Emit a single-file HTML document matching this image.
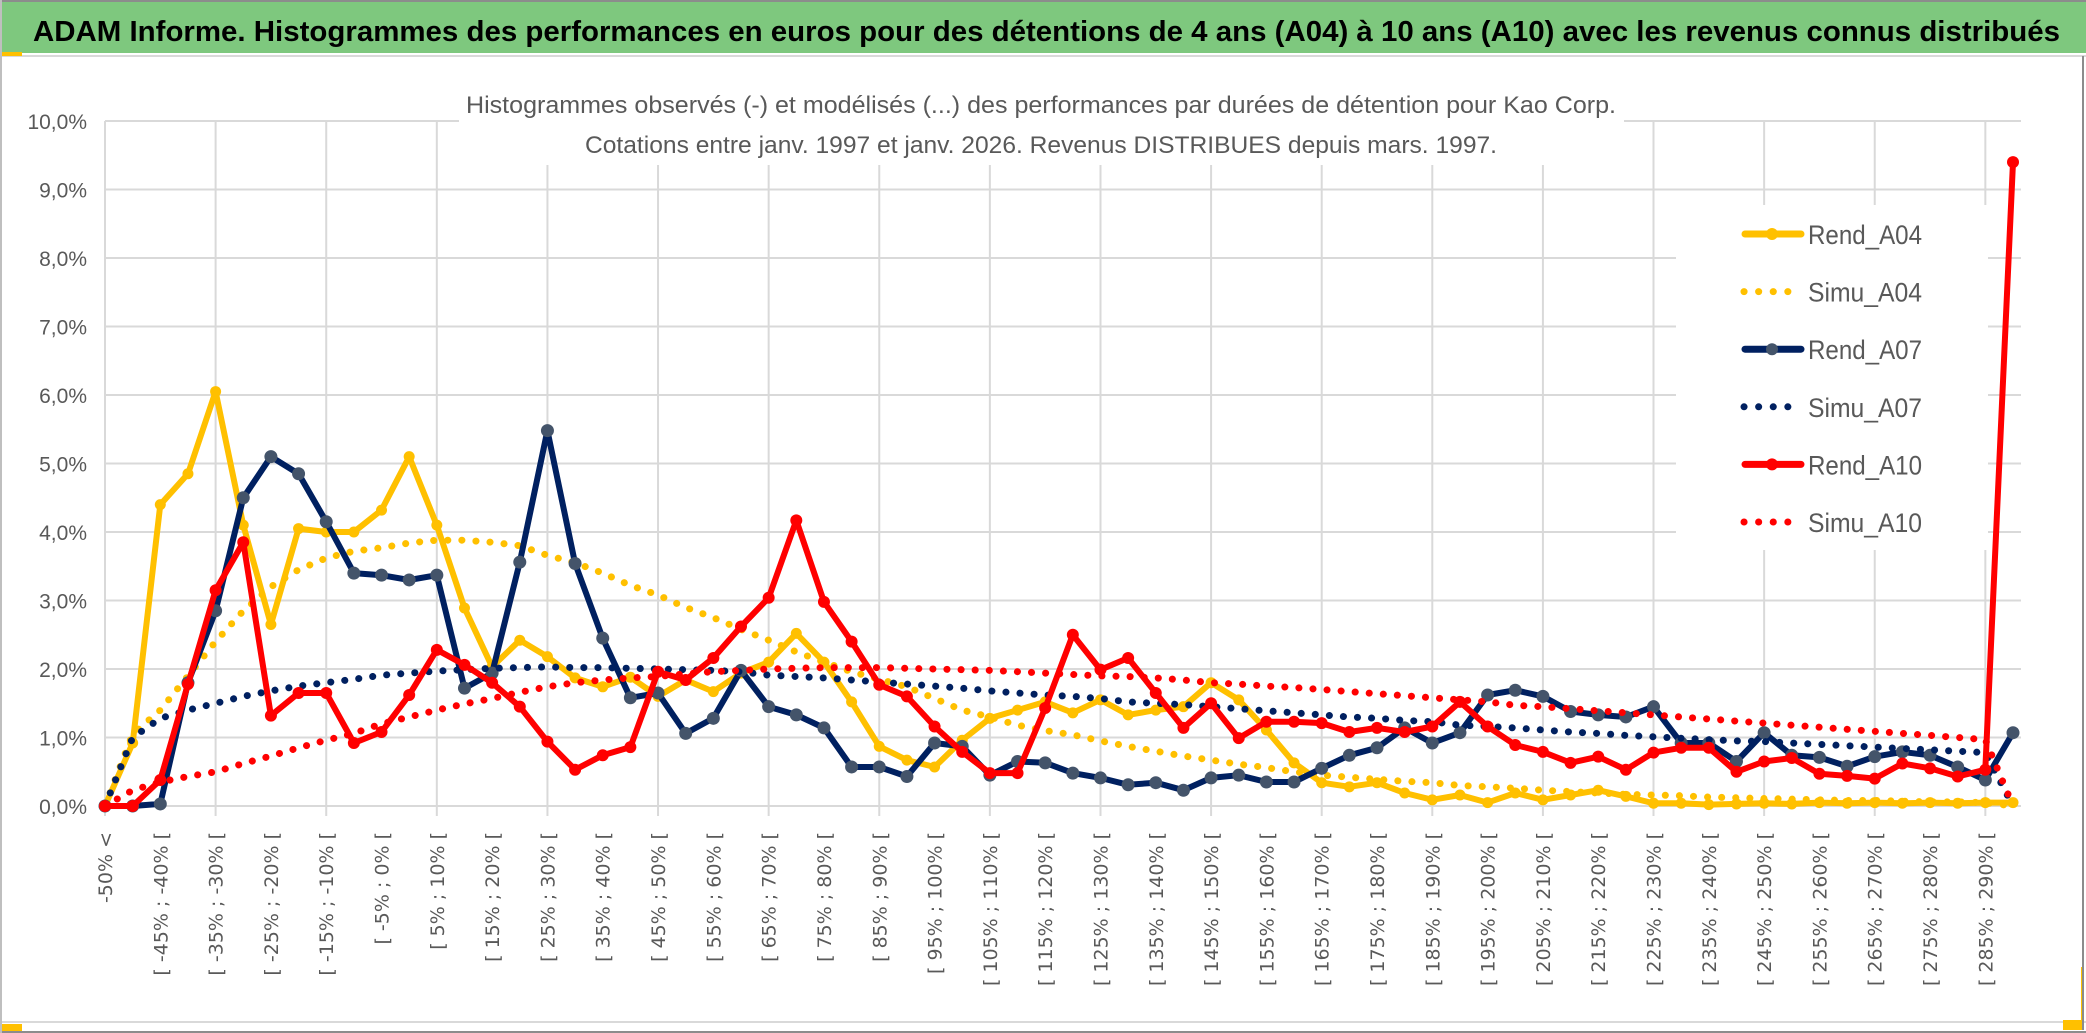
<!DOCTYPE html>
<html><head><meta charset="utf-8"><style>
html,body{margin:0;padding:0;background:#fff;}
svg{display:block;}
</style></head><body>
<svg id="chart" xmlns="http://www.w3.org/2000/svg" width="2086" height="1033" viewBox="0 0 2086 1033">
  <rect x="0" y="0" width="2086" height="1033" fill="#fff"/>
  <rect x="0" y="2" width="2086" height="51" fill="#7ec87e"/>
  <line x1="0" y1="1" x2="2086" y2="1" stroke="#8c8c8c" stroke-width="2"/>
  <text x="33" y="41" font-family="'Liberation Sans', sans-serif" font-weight="bold" font-size="29" fill="#000" textLength="2027" lengthAdjust="spacingAndGlyphs">ADAM Informe. Histogrammes des performances en euros pour des détentions de 4 ans (A04) à 10 ans (A10) avec les revenus connus distribués</text>
  <line x1="0" y1="56" x2="2086" y2="56" stroke="#d9d9d9" stroke-width="2"/>
  <rect x="0" y="52" width="22" height="4" fill="#ffc000"/>
  <line x1="0" y1="1022" x2="2086" y2="1022" stroke="#d9d9d9" stroke-width="2"/>
  <line x1="0" y1="1032" x2="2086" y2="1032" stroke="#8c8c8c" stroke-width="2"/>
  <rect x="0" y="1024" width="22" height="7" fill="#ffc000"/>
  <rect x="2063" y="967" width="20" height="63" fill="#ffc000"/>
  <rect x="2040" y="960" width="41" height="60" fill="#fff"/>
  <line x1="2083" y1="56" x2="2083" y2="1030" stroke="#8c8c8c" stroke-width="2"/>
  <line x1="1" y1="0" x2="1" y2="1033" stroke="#bfbfbf" stroke-width="2"/>
  <g id="grid"></g>
  <rect x="459" y="80" width="1165" height="85" fill="#fff"/>
  <text x="1041" y="113" text-anchor="middle" font-family="'Liberation Sans', sans-serif" font-size="24" fill="#595959" textLength="1150" lengthAdjust="spacingAndGlyphs">Histogrammes observés (-) et modélisés (...) des performances par durées de détention pour Kao Corp.</text>
  <text x="1041" y="153" text-anchor="middle" font-family="'Liberation Sans', sans-serif" font-size="24" fill="#595959" textLength="912" lengthAdjust="spacingAndGlyphs">Cotations entre janv. 1997 et janv. 2026. Revenus DISTRIBUES depuis mars. 1997.</text>
  <g id="yaxis"></g>
  <g id="xaxis"></g>
  <rect x="1676" y="205" width="312" height="345" fill="#fff"/>
  <g id="series"></g>
  <g id="legend"></g>
</svg>
<script>
const rendA04 = [0,0.92,4.4,4.85,6.05,4.1,2.65,4.05,4.0,4.0,4.32,5.1,4.1,2.89,2.03,2.42,2.18,1.87,1.74,1.88,1.6,1.84,1.67,1.94,2.1,2.52,2.1,1.52,0.87,0.67,0.57,0.96,1.28,1.4,1.52,1.36,1.55,1.33,1.4,1.45,1.8,1.55,1.11,0.63,0.34,0.28,0.34,0.19,0.09,0.16,0.05,0.19,0.09,0.16,0.23,0.14,0.04,0.04,0.02,0.03,0.04,0.03,0.05,0.04,0.05,0.04,0.05,0.04,0.05,0.05];
const simuA04 = [0,1.05,1.4,1.9,2.4,2.85,3.2,3.45,3.62,3.72,3.77,3.84,3.88,3.88,3.85,3.8,3.66,3.55,3.4,3.22,3.08,2.9,2.75,2.58,2.42,2.25,2.1,1.96,1.85,1.74,1.57,1.4,1.3,1.18,1.1,1.04,0.95,0.87,0.8,0.73,0.67,0.61,0.56,0.5,0.45,0.42,0.39,0.36,0.34,0.3,0.28,0.26,0.23,0.21,0.19,0.17,0.16,0.15,0.13,0.12,0.11,0.1,0.09,0.08,0.08,0.07,0.06,0.06,0.05,0.0];
const rendA07 = [0,0,0.03,1.8,2.85,4.5,5.1,4.85,4.15,3.4,3.37,3.3,3.37,1.72,1.94,3.56,5.48,3.54,2.45,1.58,1.65,1.06,1.28,1.98,1.45,1.33,1.14,0.57,0.57,0.43,0.92,0.87,0.45,0.65,0.63,0.48,0.41,0.31,0.34,0.23,0.41,0.45,0.35,0.35,0.55,0.74,0.85,1.14,0.92,1.07,1.62,1.69,1.6,1.38,1.33,1.3,1.45,0.92,0.92,0.65,1.07,0.74,0.71,0.58,0.72,0.79,0.74,0.57,0.38,1.07];
const simuA07 = [0,1.0,1.28,1.4,1.5,1.6,1.68,1.75,1.8,1.85,1.91,1.94,1.97,1.99,2.01,2.02,2.03,2.02,2.02,2.01,2.0,1.99,1.98,1.96,1.91,1.89,1.87,1.84,1.81,1.78,1.75,1.72,1.68,1.65,1.62,1.6,1.57,1.52,1.5,1.48,1.45,1.42,1.39,1.36,1.33,1.3,1.28,1.25,1.23,1.18,1.16,1.14,1.11,1.08,1.06,1.03,1.01,0.99,0.97,0.95,0.94,0.92,0.9,0.88,0.86,0.84,0.82,0.8,0.78,0.0];
const rendA10 = [0,0,0.38,1.78,3.15,3.85,1.32,1.65,1.65,0.92,1.08,1.62,2.28,2.06,1.8,1.45,0.94,0.53,0.74,0.86,1.96,1.84,2.16,2.62,3.04,4.17,2.98,2.4,1.77,1.6,1.16,0.79,0.48,0.48,1.43,2.5,1.99,2.16,1.65,1.14,1.5,0.99,1.23,1.23,1.21,1.08,1.14,1.08,1.16,1.52,1.16,0.89,0.79,0.63,0.72,0.53,0.78,0.85,0.85,0.5,0.65,0.7,0.47,0.44,0.4,0.62,0.55,0.43,0.53,9.4];
const simuA10 = [0,0.23,0.35,0.43,0.5,0.62,0.73,0.85,0.96,1.06,1.2,1.3,1.4,1.49,1.57,1.66,1.74,1.8,1.84,1.87,1.89,1.93,1.96,1.98,2.0,2.01,2.02,2.02,2.02,2.01,2.0,1.99,1.98,1.96,1.94,1.92,1.9,1.89,1.87,1.84,1.8,1.78,1.75,1.73,1.7,1.67,1.64,1.61,1.58,1.55,1.52,1.47,1.45,1.42,1.39,1.36,1.33,1.3,1.27,1.24,1.21,1.18,1.15,1.12,1.09,1.06,1.03,1.0,0.97,0.0];
const yTicks = [0,1,2,3,4,5,6,7,8,9,10];
const yTickLabels = ["0,0%","1,0%","2,0%","3,0%","4,0%","5,0%","6,0%","7,0%","8,0%","9,0%","10,0%"];
const seriesNames = ["Rend_A04","Simu_A04","Rend_A07","Simu_A07","Rend_A10","Simu_A10"];
const categories = [];
categories.push("-50% <");
for (let i = 1; i < rendA04.length; i++) {
  const lo = -50 + 5 * (i - 1);
  categories.push("[ " + lo + "% ; " + (lo + 5) + "% [");
}

const NS = "http://www.w3.org/2000/svg";
const X0 = 105, X1 = 2013, Y0 = 806, Y10 = 121;
const n = categories.length;
function xPos(i) { return X0 + i * (X1 - X0) / (n - 1); }
function yPos(v) { return Y0 - v * (Y0 - Y10) / 10; }
function mk(tag, attrs, parent) {
  const e = document.createElementNS(NS, tag);
  for (const k in attrs) e.setAttribute(k, attrs[k]);
  parent.appendChild(e);
  return e;
}

const grid = document.getElementById("grid");
yTicks.forEach(function (t) {
  const l = mk("line", {x1: X0, x2: X1 + 8, y1: yPos(t), y2: yPos(t), stroke: "#d9d9d9", "stroke-width": 2}, grid);
  
  
});
for (let i = 0; i < n; i += 4) {
  const l = mk("line", {x1: xPos(i), x2: xPos(i), y1: Y10, y2: Y0 + 10, stroke: "#d9d9d9", "stroke-width": 2}, grid);
  
  
}

const yaxis = document.getElementById("yaxis");
yTicks.forEach(function (t, k) {
  const tx = mk("text", {x: 87, y: yPos(t) + 8, "text-anchor": "end", "font-family": "'Liberation Sans', sans-serif", "font-size": 21, fill: "#595959"}, yaxis);
  tx.textContent = yTickLabels[k];
  
  
});

const xaxis = document.getElementById("xaxis");
for (let i = 0; i < n; i += 2) {
  const x = xPos(i) + 7, y = 832;
  const tx = mk("text", {x: x, y: y, transform: "rotate(-90 " + x + " " + y + ")", "text-anchor": "end", "font-family": "'DejaVu Sans', sans-serif", "font-size": 19, fill: "#595959"}, xaxis);
  tx.textContent = categories[i];
  
  
}

const seriesLayer = document.getElementById("series");
function drawSolid(vals, color, markerColor, r, name) {
  const g = mk("g", {}, seriesLayer);
  
  
  const pts = vals.map(function (v, i) { return xPos(i).toFixed(1) + "," + yPos(v).toFixed(1); }).join(" ");
  const pl = mk("polyline", {points: pts, fill: "none", stroke: color, "stroke-width": 6, "stroke-linejoin": "round", "stroke-linecap": "round"}, g);
  
  
  vals.forEach(function (v, i) {
    const c = mk("circle", {cx: xPos(i), cy: yPos(v), r: r, fill: markerColor}, g);
    
    
  });
}
function drawDotted(vals, color, name) {
  const pts = vals.map(function (v, i) { return xPos(i).toFixed(1) + "," + yPos(v).toFixed(1); }).join(" ");
  const pl = mk("polyline", {points: pts, fill: "none", stroke: color, "stroke-width": 7, "stroke-dasharray": "0.1 14", "stroke-linecap": "round", "stroke-linejoin": "round"}, seriesLayer);
  
  
}
drawSolid(rendA04, "#ffc000", "#ffc000", 5.5, "rend-a04");
drawDotted(simuA04, "#ffc000", "simu-a04");
drawSolid(rendA07, "#002060", "#44546a", 6.5, "rend-a07");
drawDotted(simuA07, "#002060", "simu-a07");
drawSolid(rendA10, "#ff0000", "#ff0000", 6, "rend-a10");
drawDotted(simuA10, "#ff0000", "simu-a10");

const legend = document.getElementById("legend");
const legendColors = ["#ffc000", "#ffc000", "#002060", "#002060", "#ff0000", "#ff0000"];
const legendMarkers = ["#ffc000", null, "#44546a", null, "#ff0000", null];
seriesNames.forEach(function (nm, k) {
  const cy = 234 + k * 57.6;
  const g = mk("g", {}, legend);
  
  
  if (legendMarkers[k]) {
    mk("line", {x1: 1745, x2: 1801, y1: cy, y2: cy, stroke: legendColors[k], "stroke-width": 7, "stroke-linecap": "round"}, g);
    mk("circle", {cx: 1772, cy: cy, r: 6, fill: legendMarkers[k]}, g);
  } else {
    mk("line", {x1: 1744, x2: 1801, y1: cy, y2: cy, stroke: legendColors[k], "stroke-width": 7, "stroke-dasharray": "0.1 14.5", "stroke-linecap": "round"}, g);
  }
  const tx = mk("text", {x: 1808, y: cy + 10, "font-family": "'Liberation Sans', sans-serif", "font-size": 27, fill: "#595959", textLength: 114, lengthAdjust: "spacingAndGlyphs"}, g);
  tx.textContent = nm;
});
</script>
</body></html>
